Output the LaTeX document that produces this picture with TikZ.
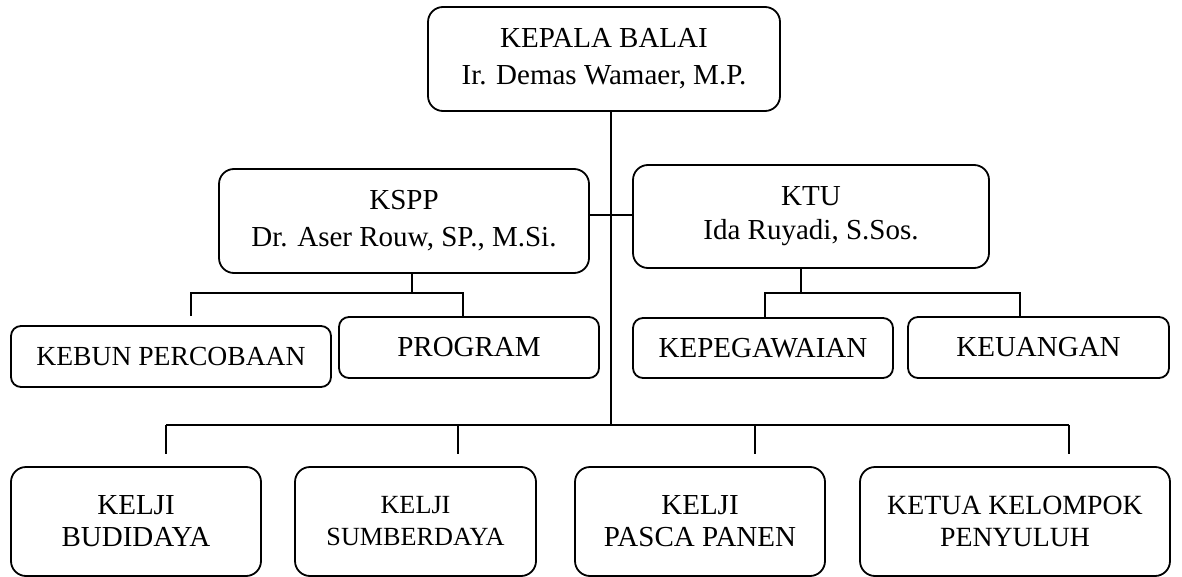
\documentclass[tikz,border=0pt]{standalone}
\usepackage{fontspec}
\setmainfont{Liberation Serif}
\usepackage{tikz}
\usetikzlibrary{calc, positioning}
\tikzset{
  % connector style
  garis/.style={
    line width = 0.9pt
  },
}
\tikzset{
  %unit box style
  jabatan/.style={
    draw
    , line width=0.9pt
    , anchor=center
    , align=center
    , inner sep=0pt
    , rounded corners=7.5pt
    , font=\fontsize{14.5}{18.5}\selectfont
  },
  subunit/.style={
    jabatan
    , rounded corners=5pt
    , minimum height=30.5pt
  },
  kelji/.style={
    jabatan
    , minimum height=54.5pt
    , font=\fontsize{14.5}{16}\selectfont
  },
}

\begin{document}
\begin{tikzpicture}[x=0.5pt, y=-0.5pt]
      \useasboundingbox (0,0) rectangle (1182,577);

      \node[jabatan, minimum width=176pt, minimum height=52pt] (kepala) at (604,59) {KEPALA BALAI\\Ir. Demas Wamaer, M.P.};
      \node[jabatan, minimum width=185pt, minimum height=52pt] (kspp) at (404,221) {KSPP\\Dr. Aser Rouw, SP., M.Si.};
      \node[jabatan, minimum width=178pt, minimum height=51.5pt, font=\fontsize{14.5}{17}\selectfont] (ktu) at (811,216.5) {KTU\\Ida Ruyadi, S.Sos.};

      \node[subunit, minimum width=160pt, font=\fontsize{13.8}{16}\selectfont] (kebun) at (171,356.5) {KEBUN PERCOBAAN};
      \node[subunit, minimum width=130pt] (program) at (469,347.5) {PROGRAM};
      \node[subunit, minimum width=130pt, minimum height=30pt] (kepeg) at (763,348) {KEPEGAWAIAN};
      \node[subunit, minimum width=130.5pt] (keuangan) at (1038.5,347.5) {KEUANGAN};

      \node[kelji, minimum width=125pt] (budidaya) at (136,521.5) {KELJI\\BUDIDAYA};
      \node[kelji, minimum width=120.5pt, font=\fontsize{13.1}{16}\selectfont] (sumberdaya) at (415.5,521.5) {KELJI\\SUMBERDAYA};
      \node[kelji, minimum width=125pt] (pasca) at (700,521.5) {KELJI\\PASCA PANEN};
      \node[kelji, minimum width=155pt, font=\fontsize{13.9}{16}\selectfont] (ketua) at (1015,521.5) {KETUA KELOMPOK\\PENYULUH};

      \coordinate (trunk) at (611,425);
      \coordinate (mid) at (611,215);
      \coordinate (kspp-l) at (191,293);
      \coordinate (kspp-m) at (412,293);
      \coordinate (kspp-r) at (463,293);
      \coordinate (ktu-l) at (765,293);
      \coordinate (ktu-m) at (801,293);
      \coordinate (ktu-r) at (1020,293);
      \coordinate (d1) at (166,425);
      \coordinate (d2) at (458,425);
      \coordinate (d3) at (755,425);
      \coordinate (d4) at (1069,425);

      \draw[garis] (kepala.south -| trunk) -- (trunk);
      \draw[garis] (kspp.east |- mid) -- (ktu.west |- mid);

      \draw[garis] (kspp.south -| kspp-m) -- (kspp-m);
      \draw[garis] (kspp-l |- program.north) -- (kspp-l) -- (kspp-r) -- (program.north -| kspp-r);

      \draw[garis] (ktu.south -| ktu-m) -- (ktu-m);
      \draw[garis] (kepeg.north -| ktu-l) -- (ktu-l) -- (ktu-r) -- (keuangan.north -| ktu-r);

      \draw[garis] (d1) -- (d4);
      \foreach \n/\d in {budidaya/d1, sumberdaya/d2, pasca/d3, ketua/d4}
        \draw[garis] (\d) -- ([yshift=6pt]\n.north -| \d);
    \end{tikzpicture}
\end{document}
